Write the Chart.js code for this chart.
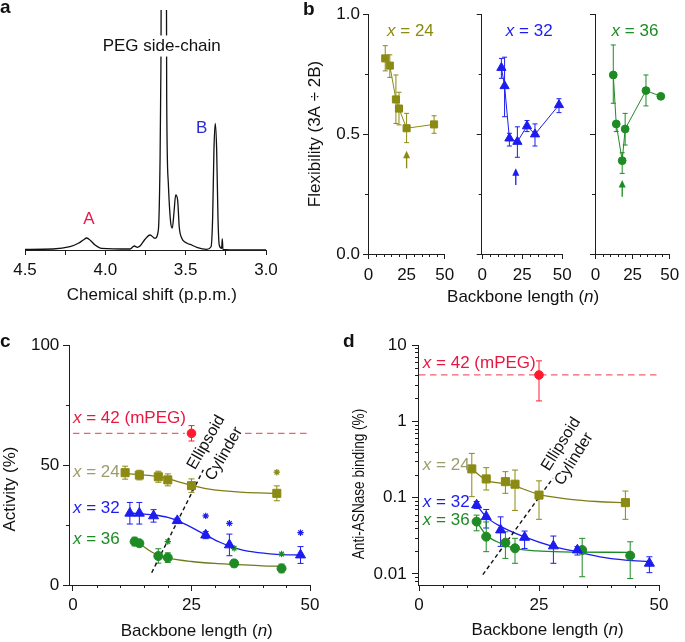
<!DOCTYPE html>
<html><head><meta charset="utf-8">
<script src="https://cdn.jsdelivr.net/npm/chart.js@4.4.1/dist/chart.umd.min.js"></script>
<style>
html,body{margin:0;padding:0;background:#fff;}
body{width:685px;height:642px;position:relative;overflow:hidden;font-family:"Liberation Sans",Arial,sans-serif;}
canvas{position:absolute;}
.pl{position:absolute;font-weight:bold;font-size:19px;line-height:19px;color:#111;}
</style></head><body>
<canvas id="cA"></canvas><canvas id="cB1"></canvas><canvas id="cB2"></canvas><canvas id="cB3"></canvas><canvas id="cC"></canvas><canvas id="cD"></canvas>
<div class="pl" style="left:0;top:-3px">a</div>
<div class="pl" style="left:303px;top:-1px">b</div>
<div class="pl" style="left:0;top:331px">c</div>
<div class="pl" style="left:343px;top:331px">d</div>
<script>
// ================= DATA =================
// (a) 1H NMR trace: chemical shift (p.p.m.) and intensity (arbitrary units)
const nmrShift = [4.500, 4.326, 4.220, 4.168, 4.137, 4.116, 4.091, 4.064, 4.023, 3.846, 3.820, 3.801, 3.784, 3.753, 3.722, 3.691, 3.670, 3.660, 3.654, 3.649, 3.622, 3.618, 3.608, 3.593, 3.583, 3.573, 3.562, 3.550, 3.540, 3.525, 3.494, 3.462, 3.431, 3.369, 3.342, 3.332, 3.324, 3.316, 3.307, 3.299, 3.291, 3.276, 3.272, 3.268, 3.224, 3.000];
const nmrIntensity = [0.7, 1.0, 3.3, 6.7, 10.0, 12.0, 9.3, 5.0, 1.7, 1.0, 4.0, 2.7, 4.0, 10.7, 15.0, 11.7, 20, 83, 183, 400, 400, 150, 67, 27, 22, 37, 55, 50, 23, 12, 7.0, 5.0, 2.7, 0.7, 3.3, 33, 100, 126.7, 100, 33, 5.0, 1.7, 11.0, 0.7, 0.2, 0.2];

// (b) flexibility (3A / 2B) vs backbone length n
const nB24 = [11, 14, 18, 20, 25, 43];
const flex24 = [0.815, 0.785, 0.644, 0.606, 0.524, 0.540];
const flex24Lo = [0.763, 0.736, 0.544, 0.538, 0.464, 0.503];
const flex24Hi = [0.868, 0.830, 0.746, 0.674, 0.586, 0.576];
const nB32 = [12, 14, 17, 22, 28, 33, 48];
const flex32 = [0.776, 0.700, 0.482, 0.468, 0.533, 0.499, 0.621];
const flex32Lo = [0.732, 0.572, 0.450, 0.403, 0.510, 0.450, 0.589];
const flex32Hi = [0.815, 0.820, 0.503, 0.530, 0.556, 0.542, 0.647];
const nB36 = [12, 14, 18, 20, 34, 44];
const flex36 = [0.746, 0.542, 0.389, 0.521, 0.681, 0.657];
const flex36Lo = [0.628, 0.510, 0.336, 0.454, 0.617, 0.657];
const flex36Hi = [0.871, 0.551, 0.422, 0.586, 0.746, 0.657];
const arrowN = [25, 21, 18];
const arrowBase = [0.357, 0.287, 0.239];
const arrowTip = [0.430, 0.357, 0.308];

// (c) activity (%)
const nC24 = [11, 14, 18, 20, 25, 43];
const act24 = [46.8, 45.8, 45.1, 43.8, 41.4, 38.2];
const act24Err = [2.7, 2.0, 2.3, 2.5, 2.8, 3.1];
const nC32 = [12, 14, 17, 22, 28, 33, 48];
const act32 = [29.9, 29.9, 28.8, 26.8, 20.8, 16.7, 12.5];
const act32Err = [4.5, 4.5, 2.6, 1.0, 1.5, 4.5, 3.5];
const nC36 = [13, 14, 18, 20, 34, 44];
const act36 = [18.1, 17.4, 12.1, 11.4, 9.0, 6.9];
const act36Err = [1.8, 1.2, 3.0, 2.0, 1.5, 1.8];
const nMPEG = [25];
const actMPEG = [63.2];
const actMPEGErr = [3.2];
const starC24N = [43], starC24 = [47.0];
const starC32N = [28, 33, 48], starC32 = [28.8, 25.7, 21.8];
const starC36N = [20, 34, 44], starC36 = [18.1, 15.3, 12.9];
const fitC24N = [11, 14, 18, 20, 22, 25, 28, 32, 36, 43];
const fitC24 = [46.5, 46.0, 45.2, 44.3, 43.2, 41.5, 40.2, 39.2, 38.6, 38.2];
const fitC32N = [12, 17, 20, 22, 25, 28, 31, 34, 38, 43, 48];
const fitC32 = [30.0, 29.2, 28.2, 26.8, 24.0, 20.8, 17.8, 15.5, 13.8, 12.8, 12.5];
const fitC36N = [13, 14, 16, 18, 20, 25, 30, 34, 40, 44];
const fitC36 = [18.0, 17.2, 14.5, 12.3, 11.2, 9.8, 9.0, 8.6, 8.0, 7.8];
const boundC_N = [16.6, 27.5], boundC = [5.1, 48.0];
const mpegGapC = [23.6, 36.3];

// (d) anti-ASNase binding (%)
const nD24 = [11, 14, 18, 20, 25, 43];
const bind24 = [0.238, 0.176, 0.162, 0.150, 0.108, 0.086];
const bind24Lo = [0.103, 0.126, 0.114, 0.068, 0.052, 0.052];
const bind24Hi = [0.380, 0.247, 0.219, 0.230, 0.166, 0.122];
const nD32 = [12, 14, 17, 22, 28, 33, 48];
const bind32 = [0.080, 0.0563, 0.0377, 0.0302, 0.0233, 0.0206, 0.0138];
const bind32Lo = [0.072, 0.040, 0.023, 0.0216, 0.0138, 0.0177, 0.0104];
const bind32Hi = [0.089, 0.070, 0.056, 0.0365, 0.0314, 0.0228, 0.0168];
const nD36 = [12, 14, 18, 20, 34, 44];
const bind36 = [0.0485, 0.0308, 0.0257, 0.0217, 0.0206, 0.0174];
const bind36Lo = [0.0368, 0.0196, 0.0160, 0.0138, 0.0092, 0.0087];
const bind36Hi = [0.059, 0.048, 0.0357, 0.0293, 0.0293, 0.0264];
const bindMPEG = [4.05], bindMPEGLo = [1.85], bindMPEGHi = [6.2];
const fitD24N = [11, 14, 18, 20, 25, 31.5, 37, 43];
const fitD24 = [0.238, 0.170, 0.152, 0.142, 0.110, 0.095, 0.089, 0.086];
const fitD32N = [12, 14, 17, 21.7, 28, 32.8, 38.4, 43, 48];
const fitD32 = [0.080, 0.056, 0.042, 0.031, 0.0228, 0.0196, 0.0165, 0.0152, 0.0145];
const fitD36N = [12, 14, 17, 20, 24.5, 30, 44];
const fitD36 = [0.0485, 0.0324, 0.0252, 0.0216, 0.0201, 0.0195, 0.0192];
const boundD_N = [13.3, 27.9], boundD = [0.0098, 0.18];

// tick values
const ticksA = [4.5, 4.25, 4.0, 3.75, 3.5, 3.25, 3.0];
const ticksN = [0, 25, 50];
const minorN = [5, 10, 15, 20, 30, 35, 40, 45];
const ticksFlex = [0, 0.5, 1.0], minorFlex = [0.25, 0.75];
const ticksAct = [0, 50, 100], minorAct = [25, 75];
const ticksBind = [0.01, 0.1, 1, 10];
const minorBind = [0.008, 0.009, 0.02, 0.03, 0.04, 0.05, 0.06, 0.07, 0.08, 0.09, 0.2, 0.3, 0.4, 0.5, 0.6, 0.7, 0.8, 0.9, 2, 3, 4, 5, 6, 7, 8, 9];

// ================= STYLE =================
const FONT = '"Liberation Sans", Arial, Helvetica, sans-serif';
Chart.defaults.font.family = FONT;
Chart.defaults.font.size = 17;
Chart.defaults.color = '#111';
const AX = '#1e1e1e';
const OLIVE = '#8b8a12', OLIVE_TXT = '#9d9c6c', BLUE = '#1c1cf0', GREEN = '#1e8b24', RED = '#ff1a2e', RED_TXT = '#e91640', RED_LINE = '#f2606c';

function drawRich(ctx, s, x, y, o) {
  const segs = s.split('|');
  const size = o.size || 17;
  ctx.save();
  ctx.translate(x, y);
  if (o.rot) ctx.rotate(o.rot * Math.PI / 180);
  if (o.sx) ctx.scale(o.sx, 1);
  const fonts = segs.map((t, k) => (k % 2 ? 'italic ' : '') + size + 'px ' + FONT);
  const w = segs.map((t, k) => { ctx.font = fonts[k]; return ctx.measureText(t).width; });
  const tot = w.reduce((a, b) => a + b, 0);
  let cx = o.align === 'center' ? -tot / 2 : (o.align === 'right' ? -tot : 0);
  if (o.bg) { ctx.fillStyle = o.bg; ctx.fillRect(cx - 2, -size * 0.62, tot + 4, size * 1.24); }
  ctx.fillStyle = o.color || '#111';
  ctx.textBaseline = 'middle'; ctx.textAlign = 'left';
  segs.forEach((t, k) => { ctx.font = fonts[k]; ctx.fillText(t, cx, 0); cx += w[k]; });
  ctx.restore();
}

const DECO = {};
Chart.register({
  id: 'deco',
  beforeDatasetsDraw(chart) {
    const d = DECO[chart.canvas.id]; if (!d) return;
    const ctx = chart.ctx, xs = chart.scales.x, ys = chart.scales.y;
    ctx.save();
    (d.err || []).forEach(e => {
      ctx.strokeStyle = e.color; ctx.lineWidth = 1;
      e.n.forEach((n, i) => {
        const x = xs.getPixelForValue(n), a = ys.getPixelForValue(e.lo[i]), b = ys.getPixelForValue(e.hi[i]);
        if (Math.abs(a - b) < 1) return;
        ctx.beginPath(); ctx.moveTo(x, a); ctx.lineTo(x, b);
        ctx.moveTo(x - e.cap, a); ctx.lineTo(x + e.cap, a);
        ctx.moveTo(x - e.cap, b); ctx.lineTo(x + e.cap, b);
        ctx.stroke();
      });
    });
    ctx.restore();
  },
  afterDraw(chart) {
    const d = DECO[chart.canvas.id]; if (!d) return;
    const ctx = chart.ctx, xs = chart.scales.x, ys = chart.scales.y, ca = chart.chartArea;
    ctx.save();
    ctx.strokeStyle = AX; ctx.lineWidth = 1;
    const L = d.minorLen || 3;
    (d.minorX || []).forEach(v => { const x = Math.round(xs.getPixelForValue(v)) + 0.5; ctx.beginPath(); ctx.moveTo(x, ca.bottom); ctx.lineTo(x, ca.bottom + L); ctx.stroke(); });
    (d.minorY || []).forEach(v => { const y = Math.round(ys.getPixelForValue(v)) + 0.5; ctx.beginPath(); ctx.moveTo(ca.left, y); ctx.lineTo(ca.left - L, y); ctx.stroke(); });
    (d.arrows || []).forEach(a => {
      const x = xs.getPixelForValue(a.n), y0 = ys.getPixelForValue(a.from), y1 = ys.getPixelForValue(a.to);
      ctx.strokeStyle = a.color; ctx.fillStyle = a.color; ctx.lineWidth = 1.3;
      ctx.beginPath(); ctx.moveTo(x, y0); ctx.lineTo(x, y1 + 5); ctx.stroke();
      ctx.beginPath(); ctx.moveTo(x, y1); ctx.lineTo(x - 3.5, y1 + 7.5); ctx.lineTo(x + 3.5, y1 + 7.5); ctx.closePath(); ctx.fill();
    });
    (d.texts || []).forEach(t => {
      const x = t.xv !== undefined ? xs.getPixelForValue(t.xv) : ca.left + t.xa;
      const y = t.yv !== undefined ? ys.getPixelForValue(t.yv) : ca.bottom + t.yb;
      drawRich(ctx, t.s, x, y, t);
    });
    ctx.restore();
  }
});

function axis(o) {
  return {
    type: o.log ? 'logarithmic' : 'linear', bounds: 'data', min: o.min, max: o.max, reverse: !!o.reverse,
    display: o.display !== false,
    afterBuildTicks: s => { s.ticks = o.major.map(v => ({ value: v })); },
    grid: { display: true, drawOnChartArea: false, drawTicks: true, tickLength: o.len || 5, color: AX, lineWidth: 1 },
    border: { display: true, color: AX, width: 1 },
    ticks: { autoSkip: false, maxRotation: 0, minRotation: 0, padding: o.pad, color: '#111', font: { size: 17, family: FONT }, callback: o.fmt || (() => '') },
    title: { display: false }
  };
}
const pts = (xa, ya) => xa.map((x, i) => ({ x, y: ya[i] }));
function markers(xa, ya, color, style, r) {
  return { data: pts(xa, ya), showLine: false, pointStyle: style, pointRadius: r, pointBackgroundColor: color, pointBorderColor: color, pointBorderWidth: 1, borderColor: color, backgroundColor: color, clip: false };
}
function joined(xa, ya, color, style, r) {
  const d = markers(xa, ya, color, style, r); d.showLine = true; d.borderWidth = 1; d.tension = 0; return d;
}
function stars(xa, ya, color) {
  return { data: pts(xa, ya), showLine: false, pointStyle: 'star', pointRadius: 3.2, pointBorderColor: color, pointBackgroundColor: color, pointBorderWidth: 1.2, clip: false };
}
function curve(xa, ya, color, w, dash) {
  return { data: pts(xa, ya), showLine: true, pointRadius: 0, borderColor: color, borderWidth: w || 1.3, borderDash: dash || [], cubicInterpolationMode: 'monotone', fill: false };
}
const pm = (v, e, s) => v.map((x, i) => x + s * e[i]);

function build(id, box, area, datasets, scales, deco) {
  const cv = document.getElementById(id);
  cv.width = box.w; cv.height = box.h;
  cv.style.left = box.l + 'px'; cv.style.top = box.t + 'px';
  cv.style.width = box.w + 'px'; cv.style.height = box.h + 'px';
  DECO[id] = deco;
  const yW = area.l - box.l, xH = box.t + box.h - area.b;
  scales.x.afterFit = s => { s.height = xH; };
  const pad = { top: area.t - box.t, right: box.l + box.w - area.r, bottom: 0, left: 0 };
  if (scales.y.display === false) pad.left = yW; else scales.y.afterFit = s => { s.width = yW; };
  return new Chart(cv, {
    type: 'scatter', data: { datasets },
    options: { responsive: false, animation: false, devicePixelRatio: 1, events: [],
      layout: { padding: pad }, scales,
      plugins: { legend: { display: false }, tooltip: { enabled: false } } }
  });
}
const fmtHalf = v => (Math.abs(v * 2 - Math.round(v * 2)) < 1e-9 ? v.toFixed(1) : '');
const fmtInt = v => String(v);
const fmt1 = v => v.toFixed(1);

// ---------- (a) ----------
build('cA', { l: 0, t: 0, w: 305, h: 310 }, { l: 25, t: 10, r: 266, b: 250 },
  [ { data: pts(nmrShift, nmrIntensity), showLine: true, pointRadius: 0, borderColor: '#111', borderWidth: 1.3, cubicInterpolationMode: 'monotone' } ],
  { x: axis({ min: 3.0, max: 4.5, reverse: true, major: ticksA, fmt: fmtHalf, len: 5, pad: 4.8 }),
    y: { display: false, min: 0, max: 240 } },
  { texts: [
    { s: 'A', xv: 4.102, yv: 31, align: 'center', color: '#e8174d' },
    { s: 'B', xv: 3.400, yv: 122, align: 'center', color: '#2b2bd8' },
    { s: 'PEG side-chain', xv: 3.649, yv: 204, align: 'center', bg: '#fff' },
    { s: 'Chemical shift (p.p.m.)', xv: 3.711, yb: 45.5, align: 'center' } ] });

// ---------- (b) ----------
const bY = (show) => axis({ min: 0, max: 1, major: ticksFlex, fmt: show ? fmt1 : null, len: 5, pad: 3 });
const bX = () => axis({ min: -0.3, max: 50, major: ticksN, fmt: fmtInt, len: 5, pad: 5.8 });
build('cB1', { l: 300, t: 0, w: 160, h: 310 }, { l: 368, t: 14, r: 449.6, b: 254 },
  [ joined(nB24, flex24, OLIVE, 'rect', 5) ],
  { x: bX(), y: bY(true) },
  { err: [{ n: nB24, lo: flex24Lo, hi: flex24Hi, color: OLIVE, cap: 2.5 }],
    arrows: [{ n: arrowN[0], from: arrowBase[0], to: arrowTip[0], color: OLIVE }],
    minorX: minorN, minorY: minorFlex, minorLen: 3,
    texts: [ { s: '|x| = 24', xv: 27.5, yv: 0.926, align: 'center', color: OLIVE },
             { s: 'Flexibility (3A ÷ 2B)', xa: -53, yv: 0.5, rot: -90, align: 'center' } ] });
build('cB2', { l: 430, t: 0, w: 190, h: 310 }, { l: 481.7, t: 14, r: 562.2, b: 254 },
  [ joined(nB32, flex32, BLUE, 'triangle', 5.3) ],
  { x: bX(), y: bY(false) },
  { err: [{ n: nB32, lo: flex32Lo, hi: flex32Hi, color: BLUE, cap: 2.5 }],
    arrows: [{ n: arrowN[1], from: arrowBase[1], to: arrowTip[1], color: BLUE }],
    minorX: minorN, minorY: minorFlex, minorLen: 3,
    texts: [ { s: '|x| = 32', xv: 29.4, yv: 0.926, align: 'center', color: BLUE },
             { s: 'Backbone length (|n|)', xv: 25.6, yb: 43, align: 'center' } ] });
build('cB3', { l: 580, t: 0, w: 105, h: 310 }, { l: 595, t: 14, r: 675.7, b: 254 },
  [ joined(nB36, flex36, GREEN, 'circle', 3.9) ],
  { x: bX(), y: bY(false) },
  { err: [{ n: nB36, lo: flex36Lo, hi: flex36Hi, color: GREEN, cap: 2.5 }],
    arrows: [{ n: arrowN[2], from: arrowBase[2], to: arrowTip[2], color: GREEN }],
    minorX: minorN, minorY: minorFlex, minorLen: 3,
    texts: [ { s: '|x| = 36', xv: 26.6, yv: 0.926, align: 'center', color: GREEN } ] });

// ---------- (c) ----------
build('cC', { l: 0, t: 320, w: 330, h: 322 }, { l: 69, t: 345, r: 310, b: 585 },
  [ markers(nMPEG, actMPEG, RED, 'circle', 4.3),
    markers(nC24, act24, OLIVE, 'rect', 5.7),
    markers(nC32, act32, BLUE, 'triangle', 5.8),
    markers(nC36, act36, GREEN, 'circle', 4.5),
    stars(starC24N, starC24, OLIVE), stars(starC32N, starC32, BLUE), stars(starC36N, starC36, GREEN),
    curve(boundC_N, boundC, '#111', 1.4, [4, 3]),
    curve(fitC24N, fitC24, '#7f7d14'), curve(fitC32N, fitC32, BLUE), curve(fitC36N, fitC36, '#6b7a1c'),
    curve([0, mpegGapC[0]], [actMPEG[0], actMPEG[0]], RED_LINE, 1.3, [6.5, 4.5]),
    curve([mpegGapC[1], 50], [actMPEG[0], actMPEG[0]], RED_LINE, 1.3, [6.5, 4.5]) ],
  { x: axis({ min: -0.84, max: 50, major: ticksN, fmt: fmtInt, len: 6, pad: 3.8 }),
    y: axis({ min: 0, max: 100, major: ticksAct, fmt: fmtInt, len: 6, pad: 3.7 }) },
  { err: [ { n: nMPEG, lo: pm(actMPEG, actMPEGErr, -1), hi: pm(actMPEG, actMPEGErr, 1), color: RED, cap: 3 },
           { n: nC24, lo: pm(act24, act24Err, -1), hi: pm(act24, act24Err, 1), color: OLIVE, cap: 3 },
           { n: nC32, lo: pm(act32, act32Err, -1), hi: pm(act32, act32Err, 1), color: BLUE, cap: 3 },
           { n: nC36, lo: pm(act36, act36Err, -1), hi: pm(act36, act36Err, 1), color: GREEN, cap: 3 } ],
    minorX: minorN, minorY: minorAct, minorLen: 3,
    texts: [ { s: '|x| = 42 (mPEG)', xv: 0, yv: 69.6, color: RED_TXT },
             { s: '|x| = 24', xv: 0, yv: 47.1, color: OLIVE_TXT },
             { s: '|x| = 32', xv: 0, yv: 32.1, color: BLUE },
             { s: '|x| = 36', xv: 0, yv: 19.2, color: GREEN },
             { s: 'Ellipsoid', xv: 28.1, yv: 59.4, rot: -60, align: 'center', size: 16 },
             { s: 'Cylinder', xv: 31.9, yv: 54.6, rot: -60, align: 'center', size: 16 },
             { s: 'Activity (%)', xa: -58.7, yv: 40, rot: -90, align: 'center' },
             { s: 'Backbone length (|n|)', xv: 26.1, yb: 46.5, align: 'center' } ] });

// ---------- (d) ----------
build('cD', { l: 340, t: 320, w: 345, h: 322 }, { l: 418, t: 345, r: 659, b: 585 },
  [ markers(nMPEG, bindMPEG, RED, 'circle', 4.3),
    markers(nD24, bind24, OLIVE, 'rect', 5.7),
    markers(nD32, bind32, BLUE, 'triangle', 5.8),
    markers(nD36, bind36, GREEN, 'circle', 4.5),
    curve(boundD_N, boundD, '#111', 1.4, [4, 3]),
    curve(fitD24N, fitD24, '#7f7d14'), curve(fitD32N, fitD32, BLUE), curve(fitD36N, fitD36, GREEN),
    curve([0, 50], [bindMPEG[0], bindMPEG[0]], RED_LINE, 1.3, [6.5, 4.5]) ],
  { x: axis({ min: -0.21, max: 50, major: ticksN, fmt: fmtInt, len: 6, pad: 3.8 }),
    y: axis({ log: true, min: 0.00717, max: 10, major: ticksBind, fmt: fmtInt, len: 6, pad: 5.3 }) },
  { err: [ { n: nMPEG, lo: bindMPEGLo, hi: bindMPEGHi, color: RED, cap: 3 },
           { n: nD24, lo: bind24Lo, hi: bind24Hi, color: OLIVE, cap: 3 },
           { n: nD32, lo: bind32Lo, hi: bind32Hi, color: BLUE, cap: 3 },
           { n: nD36, lo: bind36Lo, hi: bind36Hi, color: GREEN, cap: 3 } ],
    minorX: minorN, minorY: minorBind, minorLen: 3,
    texts: [ { s: '|x| = 42 (mPEG)', xv: 0.8, yv: 5.8, color: RED_TXT },
             { s: '|x| = 24', xv: 0.8, yv: 0.267, color: OLIVE_TXT },
             { s: '|x| = 32', xv: 0.8, yv: 0.0867, color: BLUE },
             { s: '|x| = 36', xv: 0.8, yv: 0.0499, color: GREEN },
             { s: 'Ellipsoid', xv: 29.6, yv: 0.504, rot: -58, align: 'center', size: 16 },
             { s: 'Cylinder', xv: 32.3, yv: 0.321, rot: -58, align: 'center', size: 16 },
             { s: 'Anti-ASNase binding (%)', xa: -59, yv: 0.151, rot: -90, align: 'center', size: 17, sx: 0.8 },
             { s: 'Backbone length (|n|)', xv: 26.8, yb: 45, align: 'center' } ] });
</script>
</body></html>
